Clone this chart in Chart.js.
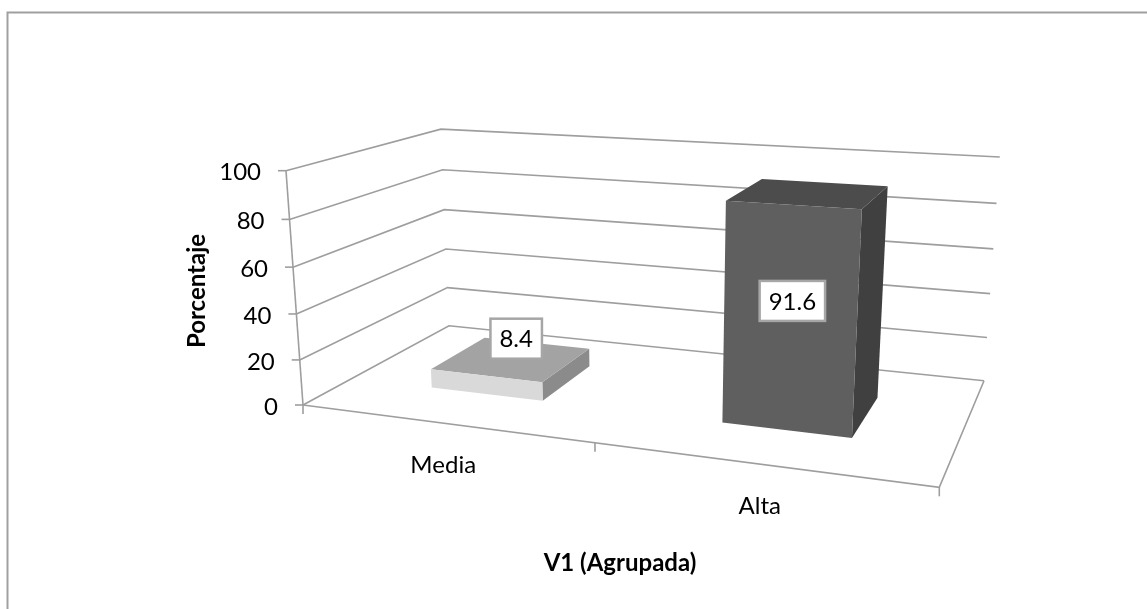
<!DOCTYPE html>
<html>
<head>
<meta charset="utf-8">
<title>V1 (Agrupada)</title>
<script src="https://cdn.jsdelivr.net/npm/chart.js@4"></script>
<style>
  html, body { margin: 0; padding: 0; background: #fff; }
  #wrap { width: 1147px; height: 609px; }
</style>
</head>
<body>
<div id="wrap"><canvas id="chart" width="1147" height="609"></canvas></div>
<script>
// data
const categories = ['Media', 'Alta'];
const values = [8.4, 91.6];
const yTicks = [0, 20, 40, 60, 80, 100];
const xTitle = 'V1 (Agrupada)';
const yTitle = 'Porcentaje';

// bar colours
const frontColors = ['#d9d9d9', '#5f5f5f'];
const topColors = ['#a3a3a3', '#4c4c4c'];
const sideColors = ['#8b8b8b', '#404040'];

// camera: images of the cube corners and perspective weights
const O = [303, 405], PU = [939.3, 487.3], PV = [286, 170.7], PW = [449, 325.7];
const pa = -0.152, pb = -0.047, pc = 0.202;
const depthFront = 0.3, depthBack = 0.7;
const labelShift = [[4, -29], [-13, -3]];

const gridColor = '#9e9e9e';
const gridWidth = 1.6;
const fontName = 'Lato, "Open Sans", sans-serif';

function project(u, v, w) {
  const d = 1 + pa * u + pb * v + pc * w;
  const at = i => (O[i]
    + u * ((1 + pa) * PU[i] - O[i])
    + v * ((1 + pb) * PV[i] - O[i])
    + w * ((1 + pc) * PW[i] - O[i])) / d;
  return [at(0), at(1)];
}

function line(ctx, pts, color, width) {
  ctx.beginPath();
  pts.forEach((p, i) => i ? ctx.lineTo(p[0], p[1]) : ctx.moveTo(p[0], p[1]));
  ctx.strokeStyle = color;
  ctx.lineWidth = width;
  ctx.stroke();
}

function face(ctx, pts, color) {
  ctx.beginPath();
  pts.forEach((p, i) => i ? ctx.lineTo(p[0], p[1]) : ctx.moveTo(p[0], p[1]));
  ctx.closePath();
  ctx.fillStyle = color;
  ctx.fill();
}

const box3d = {
  id: 'box3d',
  beforeDatasetsDraw(chart) {
    const ctx = chart.ctx;
    const area = chart.chartArea;
    const xs = chart.scales.x, ys = chart.scales.y;
    const toV = val => (area.bottom - ys.getPixelForValue(val)) / (area.bottom - area.top);

    ctx.save();
    // outer frame, cut by the window on the right and at the bottom
    line(ctx, [[7.5, 1147], [7.5, 12.5], [1147, 12.5]], '#a0a0a0', 2);

    // walls
    ys.ticks.forEach(t => {
      const v = toV(t.value);
      line(ctx, [project(0, v, 0), project(0, v, 1), project(1, v, 1)], gridColor, gridWidth);
    });
    // floor and axes
    line(ctx, [project(0, 0, 0), project(1, 0, 0), project(1, 0, 1)], gridColor, gridWidth);
    line(ctx, [project(0, 0, 0), project(0, 1, 0)], gridColor, gridWidth);

    // y ticks and labels
    ctx.font = '24px ' + fontName;
    ctx.textAlign = 'right';
    ctx.textBaseline = 'middle';
    ys.ticks.forEach(t => {
      const p = project(0, toV(t.value), 0);
      line(ctx, [[p[0] - 8, p[1]], p], gridColor, gridWidth);
      ctx.fillStyle = '#000';
      ctx.fillText(String(t.value), p[0] - 25, p[1] + 2);
    });

    // x ticks and labels
    const edges = [0, 0.5, 1];
    edges.forEach(u => {
      const p = project(u, 0, 0);
      line(ctx, [p, [p[0], p[1] + 9]], gridColor, gridWidth);
    });
    ctx.textAlign = 'center';
    categories.forEach((c, i) => {
      const p = project((i + 0.5) / categories.length, 0, 0);
      ctx.fillStyle = '#000';
      ctx.fillText(c, p[0], p[1] + 42);
    });

    // bars, taken from the bar elements laid out by the scales
    const meta = chart.getDatasetMeta(0);
    meta.data.forEach((bar, i) => {
      const u0 = (bar.x - bar.width / 2 - area.left) / (area.right - area.left);
      const u1 = (bar.x + bar.width / 2 - area.left) / (area.right - area.left);
      const v = (area.bottom - bar.y) / (area.bottom - area.top);
      const w0 = depthFront, w1 = depthBack;
      face(ctx, [project(u1, 0, w0), project(u1, 0, w1), project(u1, v, w1), project(u1, v, w0)], sideColors[i]);
      face(ctx, [project(u0, v, w0), project(u1, v, w0), project(u1, v, w1), project(u0, v, w1)], topColors[i]);
      face(ctx, [project(u0, 0, w0), project(u1, 0, w0), project(u1, v, w0), project(u0, v, w0)], frontColors[i]);
    });

    // value boxes
    meta.data.forEach((bar, i) => {
      const u = (bar.x - area.left) / (area.right - area.left);
      const v = toV(values[i] / 2);
      const p = project(u, v, 0.5);
      const cx = p[0] + labelShift[i][0], cy = p[1] + labelShift[i][1];
      const txt = String(values[i]);
      const bw = ctx.measureText(txt).width + 18, bh = 40;
      ctx.fillStyle = '#fff';
      ctx.fillRect(cx - bw / 2, cy - bh / 2, bw, bh);
      ctx.strokeStyle = '#a6a6a6';
      ctx.lineWidth = 2.5;
      ctx.strokeRect(cx - bw / 2, cy - bh / 2, bw, bh);
      ctx.fillStyle = '#000';
      ctx.textAlign = 'center';
      ctx.fillText(txt, cx, cy + 1);
    });

    // axis titles
    ctx.fillStyle = '#000';
    ctx.font = 'bold 24px ' + fontName;
    ctx.textAlign = 'center';
    ctx.fillText(xTitle, 620, 563);
    ctx.translate(197, 291);
    ctx.rotate(-Math.PI / 2);
    ctx.fillText(yTitle, 0, 0);
    ctx.restore();
    return false; // the plain flat bars are not drawn
  }
};

new Chart(document.getElementById('chart'), {
  type: 'bar',
  data: {
    labels: categories,
    datasets: [{
      label: yTitle,
      data: values,
      backgroundColor: frontColors,
      categoryPercentage: 1,
      barPercentage: 0.4
    }]
  },
  options: {
    responsive: false,
    animation: false,
    layout: { padding: 0 },
    plugins: { legend: { display: false }, tooltip: { enabled: false } },
    scales: {
      x: { display: false },
      y: {
        display: false,
        min: yTicks[0],
        max: yTicks[yTicks.length - 1],
        ticks: { stepSize: yTicks[1] - yTicks[0] }
      }
    }
  },
  plugins: [box3d]
});
</script>
</body>
</html>
